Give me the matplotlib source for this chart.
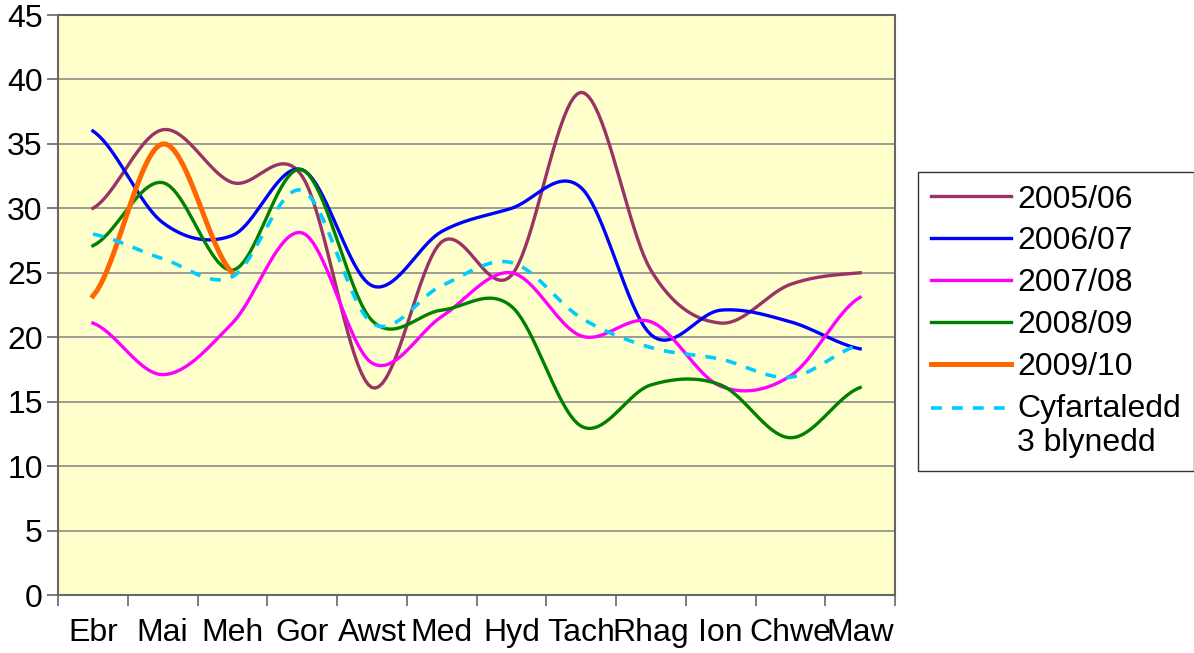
import numpy as np
import matplotlib.pyplot as plt
from matplotlib.legend_handler import HandlerLine2D

months = ['Ebr', 'Mai', 'Meh', 'Gor', 'Awst', 'Med', 'Hyd', 'Tach', 'Rhag', 'Ion', 'Chwe', 'Maw']

y2005 = [30, 36.1, 32, 32.5, 16.1, 27.4, 24.8, 39, 25.2, 21.1, 24.1, 25]
y2006 = [36, 28.9, 27.9, 33, 24, 28.2, 30, 31.6, 20.2, 22.1, 21.2, 19.1]
y2007 = [21.1, 17.1, 21.1, 28.1, 18, 21.6, 25, 20.1, 21.2, 16.2, 17, 23.1]
y2008 = [27.1, 32, 25.2, 33, 21.3, 22.1, 22.4, 13.1, 16.3, 16.3, 12.2, 16.1]
y2009 = [23.2, 35, 25]
avg3 = [28, 26.1, 24.7, 31.4, 21.1, 24, 25.8, 21.5, 19.2, 18.3, 16.9, 19.4]


def smooth(vals, steps=20):
    # Catmull-Rom curve through the points, like a smoothed Excel line
    p = np.asarray(vals, dtype=float)
    n = len(p)
    xs, ys = [], []
    for i in range(n - 1):
        p0 = p[i - 1] if i > 0 else p[i]
        p3 = p[i + 2] if i + 2 < n else p[i + 1]
        p1, p2 = p[i], p[i + 1]
        t = np.linspace(0, 1, steps, endpoint=False)
        y = 0.5 * (2 * p1 + (-p0 + p2) * t + (2 * p0 - 5 * p1 + 4 * p2 - p3) * t ** 2
                   + (-p0 + 3 * p1 - 3 * p2 + p3) * t ** 3)
        xs.append(i + t)
        ys.append(y)
    xs.append([n - 1])
    ys.append([p[-1]])
    return np.concatenate(xs), np.concatenate(ys)


class TopLineHandler(HandlerLine2D):
    # puts the legend line level with the first line of a two-line label
    def create_artists(self, *args, **kwargs):
        artists = super().create_artists(*args, **kwargs)
        for a in artists:
            a.set_ydata(np.asarray(a.get_ydata()) + 13)
        return artists


plt.rcParams['font.family'] = ['Liberation Sans', 'DejaVu Sans']

fig = plt.figure(figsize=(11.94, 6.53), dpi=100)
ax = fig.add_axes([0.0486, 0.0888, 0.7010, 0.8882])
ax.set_facecolor('#FFFFCC')

series = [
    (y2005, '2005/06', '#993366', 2.4),
    (y2006, '2006/07', '#0000FF', 2.4),
    (y2007, '2007/08', '#FF00FF', 2.4),
    (y2008, '2008/09', '#008000', 2.4),
    (y2009, '2009/10', '#FF6600', 3.6),
]
for vals, label, color, lw in series:
    sx, sy = smooth(vals)
    ax.plot(sx, sy, color=color, lw=lw, label=label, zorder=3)

sx, sy = smooth(avg3)
avg_line, = ax.plot(sx, sy, color='#00CCFF', lw=2.6, ls=(0, (3, 2.8)),
                    label='Cyfartaledd\n3 blynedd', zorder=3)

ax.set_xlim(-0.5, 11.5)
ax.set_ylim(0, 45)
ax.set_yticks(range(0, 46, 5))
ax.yaxis.grid(True, color='#8c8c8c', lw=1.2)
ax.set_axisbelow(True)

ax.set_xticks(range(12))
ax.set_xticklabels(months)
ax.set_xticks(np.arange(-0.5, 12, 1), minor=True)
ax.tick_params(axis='x', which='major', length=0, pad=16.5, labelsize=23)
ax.tick_params(axis='x', which='minor', length=8, width=1.2, color='#666666')
ax.tick_params(axis='y', length=8, width=1.2, color='#666666', labelsize=23, pad=3)

for side in ax.spines:
    ax.spines[side].set_color('#666666')
    ax.spines[side].set_linewidth(1.5)

leg = fig.legend(loc='upper left', bbox_to_anchor=(0.769, 0.737),
                 bbox_transform=fig.transFigure, fontsize=23, frameon=True,
                 fancybox=False, handlelength=2.5, handletextpad=0.2,
                 labelspacing=0.37, borderpad=0.4, borderaxespad=0,
                 handler_map={avg_line: TopLineHandler()})
leg.get_frame().set_edgecolor('black')
leg.get_frame().set_linewidth(1)

fig.savefig('out.png', dpi=100)
